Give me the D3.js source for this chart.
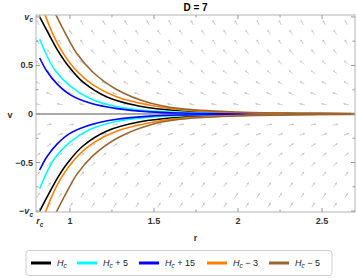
<!DOCTYPE html>
<html>
<head>
<meta charset="utf-8">
<script src="https://cdn.jsdelivr.net/npm/d3@7"></script>
<style>
  body { margin: 0; background: #fff; }
  text { font-family: "Liberation Sans", Arial, sans-serif; }
</style>
</head>
<body>
<svg id="chart"></svg>
<script>
// curves (upper branch v>0, lower branch v<0)
const blackR  = [0.82, 0.881, 0.929, 0.988, 1.077, 1.22, 1.417, 1.655, 2.0, 2.35, 2.7]
const blackV  = [1.0, 0.8, 0.65, 0.5, 0.33, 0.175, 0.08, 0.033, 0.012, 0.005, 0.002]
const cyanR   = [0.82, 0.863, 0.911, 1.0, 1.119, 1.28, 1.476, 1.655, 2.0, 2.35, 2.7]
const cyanV   = [0.77, 0.6, 0.45, 0.29, 0.16, 0.075, 0.032, 0.017, 0.007, 0.003, 0.001]
const blueR   = [0.82, 0.863, 0.923, 1.0, 1.119, 1.28, 1.476, 1.655, 2.0, 2.35, 2.7]
const blueV   = [0.577, 0.44, 0.31, 0.2, 0.113, 0.055, 0.022, 0.01, 0.004, 0.002, 0.001]
const orangeR = [0.846, 0.899, 0.958, 1.042, 1.137, 1.28, 1.476, 1.655, 2.0, 2.35, 2.7]
const orangeV = [1.05, 0.82, 0.63, 0.44, 0.3, 0.175, 0.09, 0.045, 0.015, 0.006, 0.002]
const brownR  = [0.905, 0.982, 1.042, 1.137, 1.28, 1.476, 1.655, 2.0, 2.35, 2.7]
const brownV  = [1.06, 0.8, 0.62, 0.43, 0.25, 0.113, 0.055, 0.02, 0.008, 0.004]
// lower branches
const blackVlow  = [-1.0, -0.8, -0.65, -0.5, -0.33, -0.175, -0.08, -0.033, -0.012, -0.005, -0.002]
const cyanVlow   = [-0.77, -0.6, -0.45, -0.29, -0.16, -0.075, -0.032, -0.017, -0.007, -0.003, -0.001]
const blueVlow   = [-0.577, -0.44, -0.31, -0.2, -0.113, -0.055, -0.022, -0.01, -0.004, -0.002, -0.001]
const orangeVlow = [-1.05, -0.82, -0.63, -0.44, -0.3, -0.175, -0.09, -0.045, -0.015, -0.006, -0.002]
const brownVlow  = [-1.06, -0.8, -0.62, -0.43, -0.25, -0.113, -0.055, -0.02, -0.008, -0.004]

const seriesNames = ['Hc', 'Hc+5', 'Hc+15', 'Hc-3', 'Hc-5']
const legendSuffix = ['', ' + 5', ' + 15', ' \u2212 3', ' \u2212 5']
const colors = ['#000000', '#00ffff', '#0000ff', '#ff8000', '#996633']

// vector field grid
const arrowRowsV = [0.94, 0.84, 0.74, 0.64, 0.53, 0.43, 0.32, 0.21, 0.1,
                    -0.11, -0.21, -0.32, -0.42, -0.52, -0.62, -0.73, -0.84, -0.94]
const arrowAngles = [61, 58, 55, 51, 46, 40, 32, 22, 12,
                     12, 22, 32, 40, 46, 51, 55, 58, 61]
const arrowColsA = [0.81, 0.941, 1.072, 1.203, 1.334, 1.465, 1.596, 1.727, 1.858, 1.989, 2.12, 2.251, 2.382, 2.513, 2.644]
const arrowColsB = [0.875, 1.006, 1.137, 1.268, 1.399, 1.53, 1.661, 1.792, 1.923, 2.054, 2.185, 2.316, 2.447, 2.578]

const xTicks = [0.82, 1, 1.5, 2, 2.5]
const xTickLabels = ['r_c', '1', '1.5', '2', '2.5']
const xMinor = [1.25, 1.75, 2.25]
const yTicks = [1, 0.5, 0, -0.5, -1]
const yTickLabels = ['v_c', '0.5', '0', '\u22120.5', '\u2212v_c']
const yMinor = [0.75, 0.25, -0.25, -0.75]

const W = 357, H = 278
const mLeft = 36, mRight = 355, mTop = 15, mBottom = 212

const svg = d3.select('#chart').attr('width', W).attr('height', H)

const x = d3.scaleLinear().domain([0.798, 2.696]).range([mLeft, mRight])
const y = d3.scaleLinear().domain([-1.01, 1.02]).range([mBottom, mTop])

// title
svg.append('text').attr('x', (mLeft + mRight) / 2).attr('y', 11)
  .attr('text-anchor', 'middle').style('font-size', '10px').style('font-weight', 'bold')
  .text('D = 7')

svg.append('clipPath').attr('id', 'clip').append('rect')
  .attr('x', mLeft).attr('y', mTop).attr('width', mRight - mLeft).attr('height', mBottom - mTop)

const plot = svg.append('g').attr('clip-path', 'url(#clip)')

// arrows
const arrowData = []
arrowRowsV.forEach((v, i) => {
  const cols = i % 2 == 0 ? arrowColsA : arrowColsB
  cols.forEach(r => arrowData.push({r: r, v: v, a: arrowAngles[i], up: v > 0}))
})
const L = 5
const arrowCol = '#c6c6c6'
const arrows = plot.selectAll('.arrow').data(arrowData).join('g').attr('class', 'arrow')
  .attr('transform', d => {
    // upper half points up-left, lower half points up-right
    const deg = d.up ? 180 + d.a : -d.a
    return `translate(${x(d.r)},${y(d.v)}) rotate(${deg})`
  })
arrows.append('line').attr('x1', -L / 2).attr('x2', L / 2).attr('y1', 0).attr('y2', 0)
  .attr('stroke', arrowCol).attr('stroke-width', 0.8)
arrows.append('path').attr('d', `M${L / 2 + 0.8},0 L${L / 2 - 1.6},-1.1 L${L / 2 - 1.6},1.1 Z`)
  .attr('fill', arrowCol)

// zero axis
plot.append('line').attr('x1', mLeft).attr('x2', mRight).attr('y1', y(0)).attr('y2', y(0))
  .attr('stroke', '#555').attr('stroke-width', 1)

// curves
const line = d3.line().x(d => x(d[0])).y(d => y(d[1])).curve(d3.curveCatmullRom.alpha(0.5))
const curves = [
  [blackR, blackV, blackVlow], [cyanR, cyanV, cyanVlow], [blueR, blueV, blueVlow],
  [orangeR, orangeV, orangeVlow], [brownR, brownV, brownVlow]
]
curves.forEach((c, i) => {
  const up = c[0].map((r, j) => [r, c[1][j]])
  const lo = c[0].map((r, j) => [r, c[2][j]])
  ;[up, lo].forEach(pts => {
    plot.append('path').attr('d', line(pts)).attr('fill', 'none')
      .attr('stroke', colors[i]).attr('stroke-width', 1.6)
  })
})

// frame
svg.append('rect').attr('x', mLeft).attr('y', mTop).attr('width', mRight - mLeft).attr('height', mBottom - mTop)
  .attr('fill', 'none').attr('stroke', '#b3b3b3').attr('stroke-width', 1)

// ticks
const tickCol = '#999'
xTicks.forEach(t => {
  svg.append('line').attr('x1', x(t)).attr('x2', x(t)).attr('y1', mBottom).attr('y2', mBottom - 4).attr('stroke', tickCol)
  svg.append('line').attr('x1', x(t)).attr('x2', x(t)).attr('y1', mTop).attr('y2', mTop + 4).attr('stroke', tickCol)
})
xMinor.forEach(t => {
  svg.append('line').attr('x1', x(t)).attr('x2', x(t)).attr('y1', mBottom).attr('y2', mBottom - 2.5).attr('stroke', tickCol)
  svg.append('line').attr('x1', x(t)).attr('x2', x(t)).attr('y1', mTop).attr('y2', mTop + 2.5).attr('stroke', tickCol)
})
yTicks.forEach(t => {
  svg.append('line').attr('y1', y(t)).attr('y2', y(t)).attr('x1', mLeft).attr('x2', mLeft + 4).attr('stroke', tickCol)
  svg.append('line').attr('y1', y(t)).attr('y2', y(t)).attr('x1', mRight).attr('x2', mRight - 4).attr('stroke', tickCol)
})
yMinor.forEach(t => {
  svg.append('line').attr('y1', y(t)).attr('y2', y(t)).attr('x1', mLeft).attr('x2', mLeft + 2.5).attr('stroke', tickCol)
  svg.append('line').attr('y1', y(t)).attr('y2', y(t)).attr('x1', mRight).attr('x2', mRight - 2.5).attr('stroke', tickCol)
})

function subLabel(g, txt) {
  // "v_c" -> italic v with subscript c
  const m = txt.match(/^(\u2212?)([a-zA-Z])_([a-z])$/)
  if (m) {
    g.append('tspan').text(m[1])
    g.append('tspan').style('font-style', 'italic').text(m[2])
    g.append('tspan').attr('dy', 2.5).style('font-size', '6.5px').style('font-style', 'italic').text(m[3])
  } else g.text(txt)
}

xTicks.forEach((t, i) => {
  const g = svg.append('text').attr('x', x(t)).attr('y', mBottom + 12).attr('text-anchor', 'middle')
    .style('font-size', '9px').style('font-weight', 'bold').attr('fill', '#333')
  subLabel(g, xTickLabels[i])
})
yTicks.forEach((t, i) => {
  const g = svg.append('text').attr('x', mLeft - 3).attr('y', y(t) + 3).attr('text-anchor', 'end')
    .style('font-size', '9px').style('font-weight', 'bold').attr('fill', '#333')
  subLabel(g, yTickLabels[i])
})

// axis labels
svg.append('text').attr('x', 10).attr('y', y(0) + 4).attr('text-anchor', 'middle')
  .style('font-size', '9px').style('font-weight', 'bold').attr('fill', '#333').text('v')
svg.append('text').attr('x', (mLeft + mRight) / 2).attr('y', 241).attr('text-anchor', 'middle')
  .style('font-size', '9px').style('font-weight', 'bold').attr('fill', '#333').text('r')

// legend
svg.append('rect').attr('x', 26).attr('y', 250.5).attr('width', 306).attr('height', 25).attr('rx', 3)
  .attr('fill', '#fff').attr('stroke', '#cfcfcf')
const legendX = [31, 77, 139, 207, 269]
seriesNames.forEach((s, i) => {
  const lx = legendX[i]
  svg.append('line').attr('x1', lx).attr('x2', lx + 20).attr('y1', 263).attr('y2', 263)
    .attr('stroke', colors[i]).attr('stroke-width', 3)
  const t = svg.append('text').attr('x', lx + 26).attr('y', 266).style('font-size', '9px').attr('fill', '#222')
  t.append('tspan').style('font-style', 'italic').text('H')
  t.append('tspan').attr('dy', 2).style('font-size', '6.5px').style('font-style', 'italic').text('c')
  t.append('tspan').attr('dy', -2).text(legendSuffix[i])
})
</script>
</body>
</html>
